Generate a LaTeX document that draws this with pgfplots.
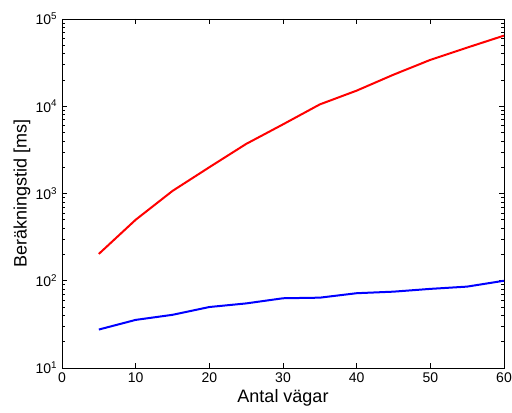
\documentclass[border=0pt]{standalone}
\usepackage{fontspec}
\setmainfont{Liberation Sans}
\usepackage{pgfplots}
\pgfplotsset{compat=1.18}
\begin{document}
\begin{tikzpicture}
\begin{axis}[name=ax, scale only axis, width=331.5pt, height=261.75pt,
  ymode=log, xmin=0, xmax=60, ymin=10, ymax=1e5,
  xtick={0,10,...,60}, xticklabels={0,10,20,30,40,50,60},
  ytick={10,100,1000,10000,100000},
  yticklabels={10\textsuperscript{1},10\textsuperscript{2},10\textsuperscript{3},10\textsuperscript{4},10\textsuperscript{5}},
  tick align=inside, major tick length=3.5pt, minor tick length=2pt,
  tick style={black, line width=0.4pt},
  ticklabel style={font=\fontsize{10.5}{12}\selectfont},
  xlabel={Antal vägar}, ylabel={Beräkningstid [ms]},
  label style={font=\fontsize{13.5}{15}\selectfont},
  xlabel style={yshift=2pt}, ylabel style={yshift=-3pt},
  axis line style={line width=0.5pt}]
\addplot[red, line width=1.5pt] coordinates {
  (5,203) (10,500) (15,1070) (20,2000) (25,3700) (30,6200)
  (35,10500) (40,15100) (45,23000) (50,34000) (55,47000) (60,64500)};
\addplot[blue, line width=1.5pt] coordinates {
  (5,27.6) (10,35.6) (15,40.7) (20,50) (25,55) (30,63)
  (35,64) (40,72) (45,75) (50,80.7) (55,85.7) (60,100)};
\end{axis}
\pgfresetboundingbox
\path ([shift={(-46.5pt,-33pt)}]ax.south west) rectangle ([shift={(6pt,14.25pt)}]ax.north east);
\end{tikzpicture}
\end{document}
